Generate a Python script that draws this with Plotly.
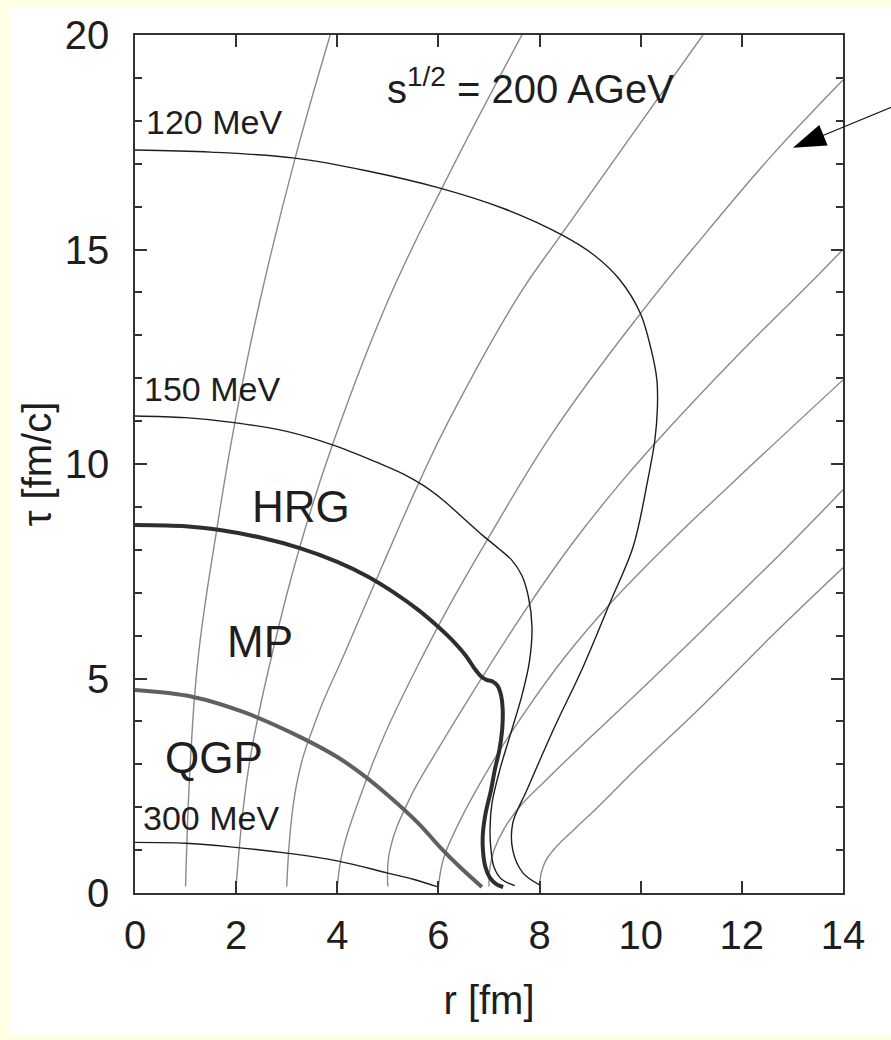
import plotly.graph_objects as go

# ---------------- data ----------------
# grey flow lines (r [fm], tau [fm/c]); start radius r0 = 1..8
flow1_r = [1.0, 1.09, 1.25, 1.62, 1.98, 2.47, 3.16, 3.86]
flow1_t = [0.15, 2.94, 5.5, 8.5, 11.0, 13.8, 17.1, 20.0]
flow2_r = [2.0, 2.25, 2.73, 3.26, 3.92, 5.0, 6.1, 7.65]
flow2_t = [0.15, 2.94, 5.66, 8.07, 10.5, 13.8, 16.5, 20.0]
flow3_r = [3.0, 3.2, 3.6, 4.15, 4.88, 5.64, 6.2, 7.6, 8.4, 11.23]
flow3_t = [0.15, 2.56, 4.1, 5.6, 7.6, 9.63, 11.0, 13.95, 15.3, 20.0]
flow4_r = [4.0, 4.11, 4.5, 4.95, 5.7, 6.17, 7.0, 8.3, 9.99, 11.3, 12.6, 14.0]
flow4_t = [0.15, 1.0, 2.4, 3.73, 5.55, 6.6, 8.3, 10.8, 13.5, 15.4, 17.2, 18.95]
flow5_r = [5.0, 5.04, 5.42, 5.98, 6.5, 7.01, 7.78, 8.68, 9.63, 10.45, 11.89, 13.42, 14.0]
flow5_t = [0.15, 1.0, 2.17, 3.33, 4.34, 5.3, 6.7, 8.2, 9.6, 10.7, 12.5, 14.3, 15.0]
flow6_r = [6.0, 6.1, 6.35, 6.7, 7.2, 7.7, 8.5, 9.4, 10.6, 11.85, 14.0]
flow6_t = [0.15, 0.8, 1.5, 2.3, 3.3, 4.2, 5.5, 6.75, 8.2, 9.6, 11.96]
flow7_r = [7.0, 7.02, 7.1, 7.3, 7.6, 8.1, 8.8, 10.1, 11.5, 12.8, 14.0]
flow7_t = [0.15, 0.6, 1.0, 1.5, 2.0, 2.6, 3.4, 4.85, 6.45, 7.95, 9.4]
flow8_r = [8.0, 8.03, 8.12, 8.35, 8.7, 9.15, 10.0, 11.25, 12.6, 14.0]
flow8_t = [0.15, 0.45, 0.75, 1.1, 1.5, 2.0, 3.0, 4.4, 6.0, 7.58]

# isotherms (thin black)
iso120_r = [0.0, 1.5, 3.16, 4.6, 6.03, 7.3, 8.44, 9.1, 9.59, 9.99, 10.2, 10.32, 10.33, 10.28,
            10.14, 9.85, 9.39, 8.86, 8.27, 7.75, 7.47, 7.47, 7.67, 8.0]
iso120_t = [17.32, 17.27, 17.13, 16.83, 16.43, 15.95, 15.34, 14.85, 14.29, 13.52, 12.7, 11.96, 11.3, 10.56,
            9.63, 8.07, 6.76, 5.27, 3.8, 2.4, 1.63, 1.0, 0.47, 0.19]
iso150_r = [0.0, 1.0, 2.0, 3.0, 3.92, 4.8, 5.3, 5.7, 6.1, 6.5, 6.88, 7.2, 7.45, 7.65, 7.78, 7.85,
            7.8, 7.65, 7.45, 7.22, 7.06, 7.02, 7.04, 7.1, 7.25, 7.51]
iso150_t = [11.12, 11.08, 10.96, 10.76, 10.44, 10.03, 9.77, 9.5, 9.15, 8.73, 8.33, 8.02, 7.76, 7.4, 6.9, 6.2,
            5.4, 4.6, 3.8, 2.9, 2.1, 1.5, 1.0, 0.6, 0.32, 0.17]
iso300_r = [0.0, 1.0, 1.94, 3.0, 4.0, 4.98, 5.5, 5.97]
iso300_t = [1.18, 1.16, 1.07, 0.93, 0.75, 0.47, 0.32, 0.15]

# phase boundaries (thick)
mp_r = [0.0, 1.0, 1.68, 2.5, 3.26, 4.0, 4.6, 5.1, 5.6, 6.0, 6.3, 6.55, 6.72, 6.85, 6.95, 7.07,
        7.17, 7.24, 7.27, 7.26, 7.2, 7.12, 7.04, 6.94, 6.88, 6.88, 6.93, 7.02, 7.15, 7.28]
mp_t = [8.58, 8.55, 8.46, 8.28, 8.04, 7.72, 7.38, 7.02, 6.6, 6.2, 5.86, 5.52, 5.22, 5.04, 4.97, 4.93,
        4.83, 4.6, 4.3, 3.8, 3.3, 2.9, 2.4, 1.9, 1.4, 1.0, 0.6, 0.35, 0.2, 0.14]
qgp_r = [0.0, 1.15, 2.14, 3.26, 4.0, 4.5, 5.0, 5.6, 6.03, 6.43, 6.86]
qgp_t = [4.73, 4.57, 4.22, 3.64, 3.17, 2.76, 2.28, 1.63, 1.07, 0.6, 0.14]

# tick values
x_ticks = [0, 2, 4, 6, 8, 10, 12, 14]
y_ticks = [0, 5, 10, 15, 20]

# text labels (text, r, tau)
iso_labels = [("120 MeV", 0.17, 17.97), ("150 MeV", 0.14, 11.74), ("300 MeV", 0.12, 1.75)]
phase_labels = [("HRG", 3.29, 9.0), ("MP", 2.47, 5.87), ("QGP", 1.57, 3.17)]
energy_label = ("s<sup>1/2</sup> = 200 AGeV", 7.83, 18.8)
arrow_tip = (13.01, 17.37)

# ---------------- figure ----------------
W, H = 891, 1040
ML, MR, MT, MB = 135, 48, 35, 147
PW, PH = W - ML - MR, H - MT - MB
XR, YR = (0, 14), (0, 20)
FONT = "Liberation Sans, Arial, Helvetica, sans-serif"
CREAM = "#FFFFE6"

fig = go.Figure()

GREY = "#8a8a8a"
flows = [(flow1_r, flow1_t), (flow2_r, flow2_t), (flow3_r, flow3_t), (flow4_r, flow4_t),
         (flow5_r, flow5_t), (flow6_r, flow6_t), (flow7_r, flow7_t), (flow8_r, flow8_t)]
for fr, ft in flows:
    fig.add_trace(go.Scatter(x=fr, y=ft, mode="lines", showlegend=False, hoverinfo="skip",
                             line=dict(color=GREY, width=1.4, shape="spline", smoothing=1.2)))

for ir, it in [(iso120_r, iso120_t), (iso150_r, iso150_t), (iso300_r, iso300_t)]:
    fig.add_trace(go.Scatter(x=ir, y=it, mode="lines", showlegend=False, hoverinfo="skip",
                             line=dict(color="#1e1e1e", width=1.4, shape="spline", smoothing=1.0)))

fig.add_trace(go.Scatter(x=qgp_r, y=qgp_t, mode="lines", showlegend=False, hoverinfo="skip",
                         line=dict(color="#606060", width=4, shape="spline", smoothing=1.1)))
fig.add_trace(go.Scatter(x=mp_r, y=mp_t, mode="lines", showlegend=False, hoverinfo="skip",
                         line=dict(color="#2e2e2e", width=4, shape="spline", smoothing=0.9)))

annotations = []
for txt, xr, yt in iso_labels:
    annotations.append(dict(x=xr, y=yt, text=txt, showarrow=False, xanchor="left", yanchor="middle",
                            font=dict(family=FONT, size=34, color="#1e1e1e")))
for txt, xr, yt in phase_labels:
    annotations.append(dict(x=xr, y=yt, text=txt, showarrow=False, xanchor="center", yanchor="middle",
                            font=dict(family=FONT, size=44, color="#1e1e1e")))
annotations.append(dict(x=energy_label[1], y=energy_label[2], text=energy_label[0], showarrow=False,
                        xanchor="center", yanchor="middle",
                        font=dict(family=FONT, size=40, color="#1e1e1e")))


def px2paper_x(px):
    return (px - ML) / PW


def px2paper_y(py):
    return (H - MB - py) / PH


# arrow: thin line coming from outside the right edge, large narrow triangular head
ux, uy = 0.925, -0.381  # direction from tip toward tail (pixel space, y down)
pxu = PW / (XR[1] - XR[0])
pyu = PH / (YR[1] - YR[0])
tip_px = (ML + (arrow_tip[0] - XR[0]) * pxu, MT + (YR[1] - arrow_tip[1]) * pyu)
L, Wh = 33.0, 11.0
bx, by = ux * L, uy * L
nx, ny = -uy, ux
pts_px = [(0, 0), (bx + nx * Wh, by + ny * Wh), (bx - nx * Wh, by - ny * Wh)]
pts = [(arrow_tip[0] + px / pxu, arrow_tip[1] - py / pyu) for px, py in pts_px]
path = "M {} {} L {} {} L {} {} Z".format(*[c for p in pts for c in p])
tail_len = 140

shapes = [
    dict(type="line", xref="paper", yref="paper", layer="above",
         x0=px2paper_x(tip_px[0] + ux * 20), y0=px2paper_y(tip_px[1] + uy * 20),
         x1=px2paper_x(tip_px[0] + ux * tail_len), y1=px2paper_y(tip_px[1] + uy * tail_len),
         line=dict(color="#111", width=1.1)),
    dict(type="path", path=path, xref="x", yref="y", fillcolor="#000", line=dict(width=0), layer="above"),
    # thin cream frame on the left, top and bottom of the white page
    dict(type="rect", xref="paper", yref="paper", layer="below",
         x0=px2paper_x(-5), x1=px2paper_x(10), y0=px2paper_y(H + 5), y1=px2paper_y(-5),
         fillcolor=CREAM, line=dict(width=0)),
    dict(type="rect", xref="paper", yref="paper", layer="below",
         x0=px2paper_x(-5), x1=px2paper_x(W + 5), y0=px2paper_y(8), y1=px2paper_y(-5),
         fillcolor=CREAM, line=dict(width=0)),
    dict(type="rect", xref="paper", yref="paper", layer="below",
         x0=px2paper_x(-5), x1=px2paper_x(W + 5), y0=px2paper_y(H + 5), y1=px2paper_y(1034),
         fillcolor=CREAM, line=dict(width=0)),
]

axis_common = dict(showline=True, linecolor="#333", linewidth=1.6, mirror="allticks",
                   ticks="inside", tickcolor="#333", tickwidth=1.6, ticklen=12,
                   showgrid=False, zeroline=False,
                   tickfont=dict(family=FONT, size=40, color="#1e1e1e"))

fig.update_layout(
    width=W, height=H, autosize=False,
    margin=dict(l=ML, r=MR, t=MT, b=MB, pad=0),
    paper_bgcolor="white", plot_bgcolor="white",
    xaxis=dict(range=list(XR), tickvals=x_ticks, ticklabelstandoff=6,
               title=dict(text="r [fm]", font=dict(family=FONT, size=40, color="#1e1e1e"), standoff=30),
               **axis_common),
    yaxis=dict(range=list(YR), tickvals=y_ticks, ticklabelstandoff=16,
               minor=dict(ticks="inside", dtick=1, tick0=0, ticklen=7, tickwidth=1.6, tickcolor="#333"),
               title=dict(text="τ [fm/c]", font=dict(family=FONT, size=40, color="#1e1e1e"), standoff=1),
               **axis_common),
    annotations=annotations,
    shapes=shapes,
)

fig.write_html("out.html")
